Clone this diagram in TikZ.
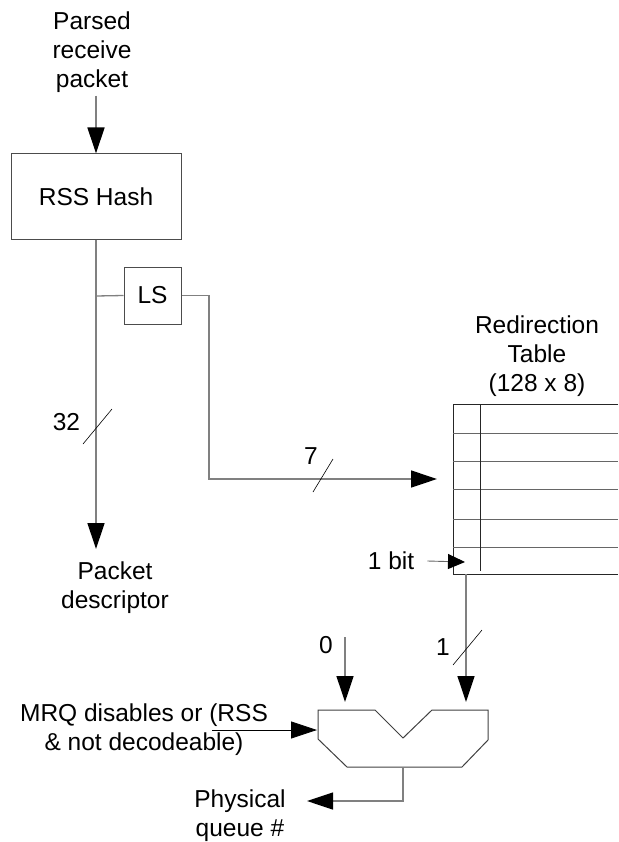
\documentclass[tikz,border=0pt]{standalone}
\usepackage{fontspec}
\setmainfont{Liberation Sans}
\usetikzlibrary{arrows.meta}

\tikzset{
  wire/.style={draw=black!50,line width=1.3pt},
  arr/.style={wire,-{Triangle[length=26pt,width=17pt,color=black]}},
  arrsmall/.style={draw=black!60,line width=0.9pt,-{Triangle[length=17pt,width=15pt,color=black]}},
  blk/.style={draw=black!70,line width=1pt,inner sep=0pt},
  txt/.style={align=center,inner sep=0pt},
  busmark/.style={draw=black,line width=0.6pt},
  grid/.style={draw=black!85,line width=1pt},
}

\begin{document}
\begin{tikzpicture}[x=1pt,y=-1pt,font=\fontsize{24.5}{29}\selectfont]
  \useasboundingbox (0,0) rectangle (618,842);
  % --- hash path ---
  \node[txt] (in) at (92,52) {Parsed\\receive\\packet};
  \node[blk,minimum width=170pt,minimum height=85pt] (hash) at (96,196.5) {RSS Hash};
  \node[blk,minimum width=57pt,minimum height=57pt] (ls) at (152.5,295.5) {LS};
  \node[txt] (w32) at (66.5,422) {32};
  \node[txt] (pd) at (115,588) {Packet\\descriptor};
  \coordinate (split) at (96,296);
  \coordinate (pdtip) at (96,549);
  \coordinate (lsbend) at (209,479);
  \coordinate (tabin) at (437,479);
  \draw[arr] (in.south -| hash.north) ++(0,3) -- (hash.north);
  \draw[arr] (hash.south) -- (pdtip);
  \draw[wire] (split) -- (ls.west);
  \draw[arr] (ls.east) -| (lsbend) -- (tabin);
  \draw[busmark] (83,444) -- (112,409);
  \node[txt] (w7) at (311,456) {7};
  \draw[busmark] (313,492) -- (333,459);
  % --- redirection table ---
  \node[txt] (rt) at (537,356) {Redirection\\Table\\(128 x 8)};
  \coordinate (tabNW) at (453,404);
  \coordinate (tabSW) at (453,574);
  \draw[grid] (618,404) -- (tabNW) -- (tabSW) -- (618,574);
  \foreach \y in {433,461,489,519,547}
    \draw[grid,draw=black!60] (453,\y) -- (618,\y);
  \draw[grid] (480,404) -- (480,571);
  \node[txt] (onebit) at (391,561) {1 bit};
  \coordinate (bittip) at (465,562);
  \draw[arrsmall] (onebit.east) ++(13,0) -- (bittip);
  % --- queue select mux ---
  \coordinate (tabout) at (466,574);
  \coordinate (in1) at (466,702);
  \coordinate (src0) at (345,637);
  \coordinate (in0) at (345,702);
  \coordinate (muxout) at (403,767);
  \coordinate (outbend) at (403,801);
  \coordinate (outtip) at (307,801);
  \coordinate (mrqtip) at (317,730);
  \draw[draw=black!75,line width=1pt] (318,710) -- (375,710) -- (403,738) -- (432,710)
    -- (488,710) -- (488,740) -- (462,767) -- (347,767) -- (318,739) -- cycle;
  \draw[arr] (tabout) -- (in1);
  \draw[busmark] (453,665) -- (482,630);
  \node[txt] (w1) at (443,647) {1};
  \draw[arr] (src0) -- (in0);
  \node[txt] (sel0) at (326,645) {0};
  \node[txt] (mrq) at (144,730) {MRQ disables or (RSS\\\& not decodeable)};
  \draw[arr,draw=black,line width=0.8pt] (212,730) -- (mrqtip);
  \draw[arr] (muxout) -- (outbend) -- (outtip);
  \node[txt] (phys) at (240,816) {Physical\\queue \#};
\end{tikzpicture}
\end{document}
